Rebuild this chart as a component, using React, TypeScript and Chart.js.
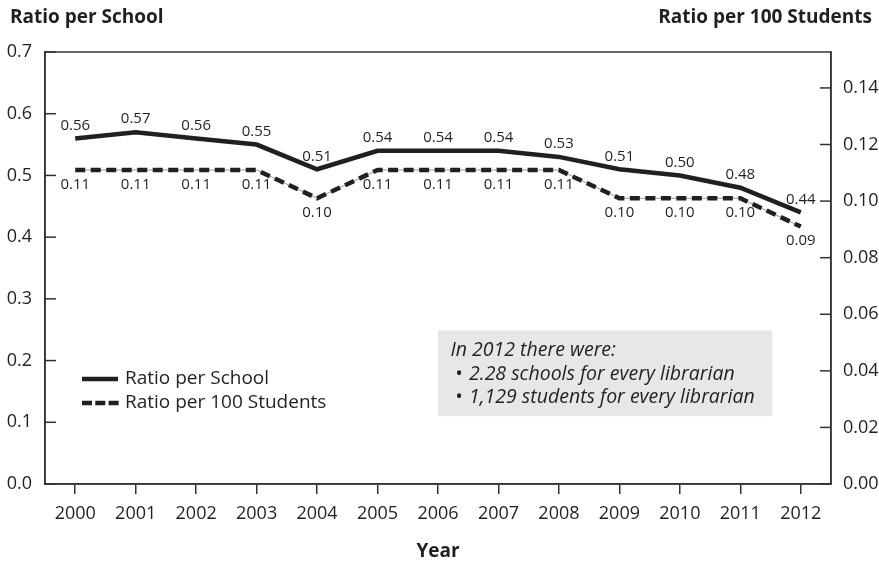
import React, { useEffect, useRef } from "react";
import { Chart, registerables } from "chart.js";

Chart.register(...registerables);

const years = ["2000", "2001", "2002", "2003", "2004", "2005", "2006", "2007", "2008", "2009", "2010", "2011", "2012"];
const perSchool = [0.56, 0.57, 0.56, 0.55, 0.51, 0.54, 0.54, 0.54, 0.53, 0.51, 0.5, 0.48, 0.44];
const per100Students = [0.111, 0.111, 0.111, 0.111, 0.101, 0.111, 0.111, 0.111, 0.111, 0.101, 0.101, 0.101, 0.091];
const leftTitle = "Ratio per School";
const rightTitle = "Ratio per 100 Students";
const xTitle = "Year";
const seriesNames = ["Ratio per School", "Ratio per 100 Students"];
const noteHeading = "In 2012 there were:";
const noteItems = ["2.28 schools for every librarian", "1,129 students for every librarian"];

const FONT = "'Open Sans', 'Noto Sans', sans-serif";
const INK = "#231f20";
const AXIS = "#333333";

const decor = {
  id: "decor",
  beforeDatasetsDraw(chart: any) {
    const { ctx, scales } = chart;
    const x = scales.x;
    const y = scales.y;
    const bx0 = x.getPixelForValue(6);
    const bx1 = x.getPixelForValue(11.53);
    const by0 = y.getPixelForValue(0.249);
    const by1 = y.getPixelForValue(0.11);
    ctx.save();
    ctx.fillStyle = "#e6e7e8";
    ctx.fillRect(bx0, by0, bx1 - bx0, by1 - by0);
    ctx.fillStyle = INK;
    ctx.font = `italic 19.5px ${FONT}`;
    ctx.textBaseline = "middle";
    ctx.textAlign = "left";
    ctx.fillText(noteHeading, bx0 + 12.5, by0 + 20);
    noteItems.forEach((t, i) => {
      const cy = by0 + 44 + i * 23;
      ctx.fillText("\u2022", bx0 + 17, cy);
      ctx.fillText(t, bx0 + 31, cy);
    });
    ctx.restore();
  },
  afterDraw(chart: any) {
    const { ctx, chartArea, scales } = chart;
    const { left, right, top, bottom } = chartArea;
    ctx.save();
    // frame
    ctx.strokeStyle = AXIS;
    ctx.lineWidth = 1.5;
    ctx.strokeRect(left, top, right - left, bottom - top);
    // inward y ticks
    const y = scales.y;
    y.ticks.forEach((t: any) => {
      const py = y.getPixelForValue(t.value);
      ctx.beginPath();
      ctx.moveTo(left, py);
      ctx.lineTo(left + 11, py);
      ctx.stroke();
    });
    const y1 = scales.y1;
    y1.ticks.forEach((t: any) => {
      const py = y1.getPixelForValue(t.value);
      ctx.beginPath();
      ctx.moveTo(right, py);
      ctx.lineTo(right - 11, py);
      ctx.stroke();
    });
    // titles
    ctx.fillStyle = INK;
    ctx.font = `bold 19px ${FONT}`;
    ctx.textBaseline = "alphabetic";
    ctx.textAlign = "left";
    ctx.fillText(leftTitle, 10, 23);
    ctx.textAlign = "right";
    ctx.fillText(rightTitle, 872, 23);
    ctx.textAlign = "center";
    ctx.fillText(xTitle, (left + right) / 2, 557);

    // data labels
    const m0 = chart.getDatasetMeta(0);
    const m1 = chart.getDatasetMeta(1);
    ctx.font = `15px ${FONT}`;
    ctx.textBaseline = "middle";
    ctx.textAlign = "center";
    m0.data.forEach((pt: any, i: number) => {
      ctx.fillText(perSchool[i].toFixed(2), pt.x, pt.y - 13);
    });
    m1.data.forEach((pt: any, i: number) => {
      ctx.fillText(per100Students[i].toFixed(2), pt.x, pt.y + 14.5);
    });

    // legend
    const lx0 = left + 37;
    const lx1 = left + 73;
    const ly0 = bottom - 105;
    const ly1 = bottom - 81;
    ctx.strokeStyle = INK;
    ctx.lineWidth = 4.5;
    ctx.beginPath();
    ctx.moveTo(lx0, ly0);
    ctx.lineTo(lx1, ly0);
    ctx.stroke();
    ctx.setLineDash([10, 3.3]);
    ctx.beginPath();
    ctx.moveTo(lx0, ly1);
    ctx.lineTo(lx1 + 1, ly1);
    ctx.stroke();
    ctx.setLineDash([]);
    ctx.font = `19px ${FONT}`;
    ctx.textAlign = "left";
    ctx.fillText(seriesNames[0], left + 80, ly0);
    ctx.fillText(seriesNames[1], left + 80, ly1);
    ctx.restore();
  },
};

export default function App() {
  const ref = useRef<HTMLCanvasElement | null>(null);
  useEffect(() => {
    if (!ref.current) return;
    const chart = new Chart(ref.current, {
      type: "line",
      data: {
        labels: years,
        datasets: [
          {
            label: seriesNames[0],
            data: perSchool,
            yAxisID: "y",
            borderColor: INK,
            borderWidth: 4.5,
            pointRadius: 0,
            tension: 0,
            fill: false,
          },
          {
            label: seriesNames[1],
            data: per100Students,
            yAxisID: "y1",
            borderColor: INK,
            borderWidth: 4.5,
            borderDash: [10, 5.5],
            pointRadius: 0,
            tension: 0,
            fill: false,
          },
          {
            label: seriesNames[1] + " guide",
            data: per100Students,
            yAxisID: "y1",
            borderColor: "#9a9a9a",
            borderWidth: 1,
            pointRadius: 0,
            tension: 0,
            fill: false,
          },
        ],
      },
      options: {
        animation: false,
        responsive: false,
        layout: { padding: { top: 52, left: 0, right: 0, bottom: 0 } },
        plugins: { legend: { display: false }, tooltip: { enabled: false }, title: { display: false } },
        scales: {
          x: {
            type: "category",
            offset: true,
            grid: { offset: false, drawOnChartArea: false, drawTicks: true, tickLength: 10, color: AXIS, lineWidth: 1.5 },
            border: { display: true, color: AXIS, width: 1.5 },
            ticks: { font: { family: FONT, size: 18 }, color: INK, padding: 9, maxRotation: 0, autoSkip: false },
            afterFit: (s: any) => {
              s.height = 79;
            },
          },
          y: {
            position: "left",
            min: 0,
            max: 0.7,
            grid: { display: false, drawTicks: false },
            border: { display: true, color: AXIS, width: 1.5 },
            ticks: {
              stepSize: 0.1,
              padding: 13,
              color: INK,
              font: { family: FONT, size: 18 },
              callback: (v: any) => Number(v).toFixed(1),
            },
            afterFit: (s: any) => {
              s.width = 45;
            },
          },
          y1: {
            position: "right",
            min: 0,
            max: 0.1527,
            grid: { display: false, drawTicks: false },
            border: { display: true, color: AXIS, width: 1.5 },
            ticks: {
              stepSize: 0.02,
              includeBounds: false,
              padding: 12,
              color: INK,
              font: { family: FONT, size: 18 },
              callback: (v: any) => Number(v).toFixed(2),
            },
            afterFit: (s: any) => {
              s.width = 48;
            },
          },
        },
      },
      plugins: [decor],
    } as any);
    return () => chart.destroy();
  }, []);
  return (
    <div style={{ position: "absolute", left: 0, top: 0, width: 879, height: 563, background: "#fff" }}>
      <canvas ref={ref} width={879} height={563} style={{ width: 879, height: 563 }} />
    </div>
  );
}
